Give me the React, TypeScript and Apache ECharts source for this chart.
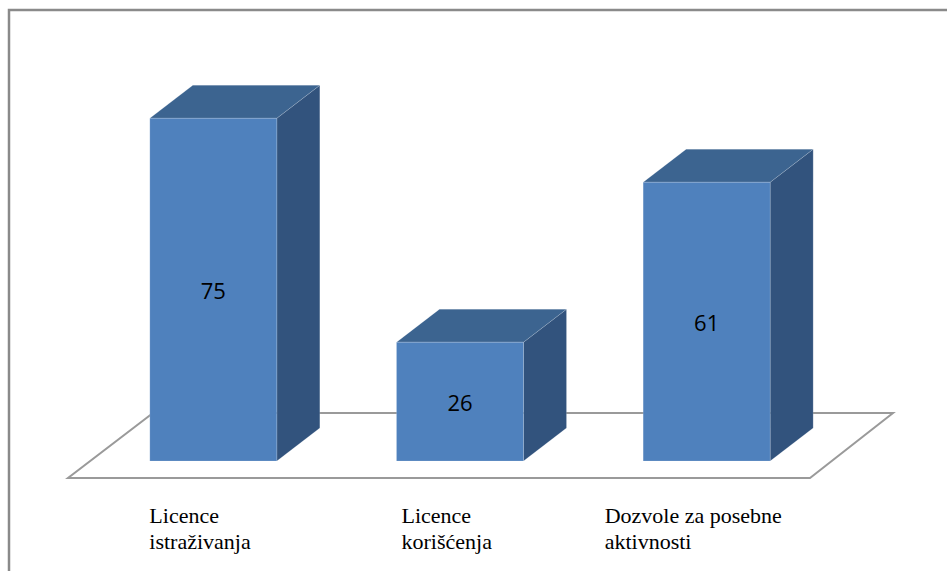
import React, { useEffect, useRef } from "react";
import * as echarts from "echarts";

const categories = ["Licence\nistraživanja", "Licence\nkorišćenja", "Dozvole za posebne\naktivnosti"];
const values = [75, 26, 61];
const valueLabels = ["75", "26", "61"];

const FRONT = "#4F81BD";
const TOP = "#3C6490";
const SIDE = "#32537D";
const CAT_FAMILY = "Times New Roman";
const CAT_SIZE = 22;

function measure(text: string): number {
  const c = document.createElement("canvas").getContext("2d");
  if (!c) return text.length * 10;
  c.font = CAT_SIZE + "px '" + CAT_FAMILY + "', serif";
  return Math.max(...text.split("\n").map((l) => c.measureText(l).width));
}

export default function App() {
  const ref = useRef<HTMLDivElement>(null);
  useEffect(() => {
    if (!ref.current) return;
    const chart = echarts.init(ref.current, undefined, { renderer: "svg" });
    const dx = 43;
    const dy = 33;
    const bw = 127;
    const rich: any = {};
    categories.forEach((c, i) => {
      rich["c" + i] = {
        width: Math.ceil(measure(c)) + 2,
        align: "left",
        fontFamily: CAT_FAMILY,
        fontSize: CAT_SIZE,
        lineHeight: 26,
        color: "#000000",
        padding: [0, 24, 0, 0],
      };
    });
    chart.setOption({
      animation: false,
      backgroundColor: "#ffffff",
      grid: { left: 90, right: 117, top: 4, bottom: 110 },
      xAxis: {
        type: "category",
        data: categories,
        axisLine: { show: false },
        axisTick: { show: false },
        axisLabel: {
          show: true,
          interval: 0,
          margin: 41,
          fontFamily: CAT_FAMILY,
          fontSize: CAT_SIZE,
          color: "#000000",
          formatter: (val: string, idx: number) =>
            val
              .split("\n")
              .map((line) => "{c" + idx + "|" + line + "}")
              .join("\n"),
          rich,
        },
      },
      yAxis: { type: "value", min: 0, max: 100, show: false, splitLine: { show: false } },
      graphic: [
        {
          type: "rect",
          shape: { x: 9, y: 10, width: 1000, height: 700 },
          style: { fill: "none", stroke: "#8a8a8a", lineWidth: 2.5 },
          z: 100,
        },
      ],
      series: [
        {
          type: "custom",
          coordinateSystem: "cartesian2d",
          data: values.map((v, i) => [i, v]),
          renderItem: (params: any, api: any) => {
            const i = api.value(0);
            const v = api.value(1);
            const top = api.coord([i, v]);
            const base = api.coord([i, 0]);
            const cx = top[0];
            const x0 = cx - bw / 2;
            const x1 = cx + bw / 2;
            const yT = top[1];
            const yB = base[1];
            const children: any[] = [];
            if (params.dataIndex === 0) {
              const cs = params.coordSys;
              const gx = cs.x;
              const gw = cs.width;
              children.push({
                type: "polygon",
                z2: 0,
                shape: {
                  points: [
                    [gx - 22, yB + 17],
                    [gx + gw - 20, yB + 17],
                    [gx + gw + 63, yB - 48],
                    [gx + 63, yB - 48],
                  ],
                },
                style: { fill: "#ffffff", stroke: "#9a9a9a", lineWidth: 2 },
              });
            }
            children.push({
              type: "polygon",
              z2: 10,
              shape: { points: [[x1, yT], [x1 + dx, yT - dy], [x1 + dx, yB - dy], [x1, yB]] },
              style: { fill: SIDE, stroke: "rgba(255,255,255,0.25)", lineWidth: 0.6 },
            });
            children.push({
              type: "polygon",
              z2: 10,
              shape: { points: [[x0, yT], [x0 + dx, yT - dy], [x1 + dx, yT - dy], [x1, yT]] },
              style: { fill: TOP, stroke: "rgba(255,255,255,0.25)", lineWidth: 0.6 },
            });
            children.push({
              type: "rect",
              z2: 11,
              shape: { x: x0, y: yT, width: bw, height: yB - yT },
              style: { fill: FRONT, stroke: "rgba(255,255,255,0.25)", lineWidth: 0.6 },
            });
            children.push({
              type: "text",
              z2: 12,
              x: cx,
              y: (yT + yB) / 2,
              style: {
                text: valueLabels[params.dataIndex],
                fill: "#000000",
                fontFamily: "Open Sans",
                fontSize: 22,
                align: "center",
                verticalAlign: "middle",
              },
            });
            return { type: "group", children };
          },
        },
      ],
    });
    return () => chart.dispose();
  }, []);
  return (
    <div
      ref={ref}
      style={{ position: "fixed", left: 0, top: 0, width: 947, height: 571 }}
    />
  );
}
